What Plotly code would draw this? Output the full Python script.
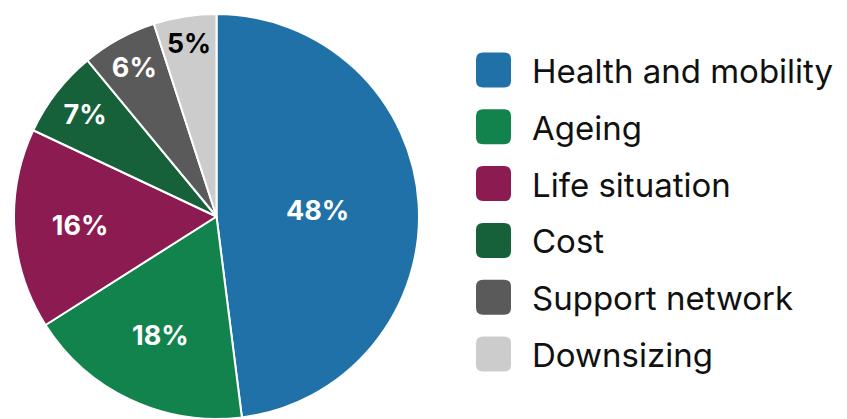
import plotly.graph_objects as go

# Reasons for moving, share of respondents
labels = ["Health and mobility", "Ageing", "Life situation", "Cost", "Support network", "Downsizing"]
values = [48, 18, 16, 7, 6, 5]
colors = ["#1F71A8", "#12834C", "#8C1B52", "#17613A", "#5A5A5A", "#CCCCCC"]
text_colors = ["white", "white", "white", "white", "white", "black"]

W, H = 847, 419
TOP = 14
FONT = "Inter, Roboto, sans-serif"

fig = go.Figure(go.Pie(
    labels=labels,
    values=values,
    sort=False,
    direction="clockwise",
    rotation=0,
    marker=dict(colors=colors, line=dict(color="white", width=2)),
    texttemplate="%{value}%",
    textposition="inside",
    insidetextorientation="horizontal",
    insidetextfont=dict(family=FONT, size=27, color=text_colors, weight="bold"),
    domain=dict(x=[12 / W, 421 / W], y=[0, 1]),
    showlegend=False,
    hoverinfo="label+percent",
))


# pixel (top-left origin) -> paper coordinates of the plotting area
def px(v):
    return v / W


def py(v):
    return 1 - (v - TOP) / (H - TOP)


# Custom legend: rounded colour swatches with labels
sw = 35
x0 = 476
y_first = 70
step = 56.8
r = 7
shapes = []
annotations = []
for i, (lab, col) in enumerate(zip(labels, colors)):
    cy = y_first + i * step
    xa, xb = x0, x0 + sw
    ya, yb = cy - sw / 2, cy + sw / 2
    path = (
        f"M {px(xa + r)},{py(ya)} L {px(xb - r)},{py(ya)} "
        f"Q {px(xb)},{py(ya)} {px(xb)},{py(ya + r)} "
        f"L {px(xb)},{py(yb - r)} Q {px(xb)},{py(yb)} {px(xb - r)},{py(yb)} "
        f"L {px(xa + r)},{py(yb)} Q {px(xa)},{py(yb)} {px(xa)},{py(yb - r)} "
        f"L {px(xa)},{py(ya + r)} Q {px(xa)},{py(ya)} {px(xa + r)},{py(ya)} Z"
    )
    shapes.append(dict(type="path", xref="paper", yref="paper", path=path,
                       fillcolor=col, line=dict(width=0)))
    annotations.append(dict(x=px(530), y=py(cy + 1), xref="paper", yref="paper",
                            text=lab, showarrow=False, xanchor="left", yanchor="middle",
                            font=dict(family=FONT, size=33, color="#111111")))

fig.update_layout(
    width=W, height=H,
    margin=dict(l=0, r=0, t=TOP, b=0),
    paper_bgcolor="white",
    plot_bgcolor="white",
    shapes=shapes,
    annotations=annotations,
)

fig.write_html("out.html")
